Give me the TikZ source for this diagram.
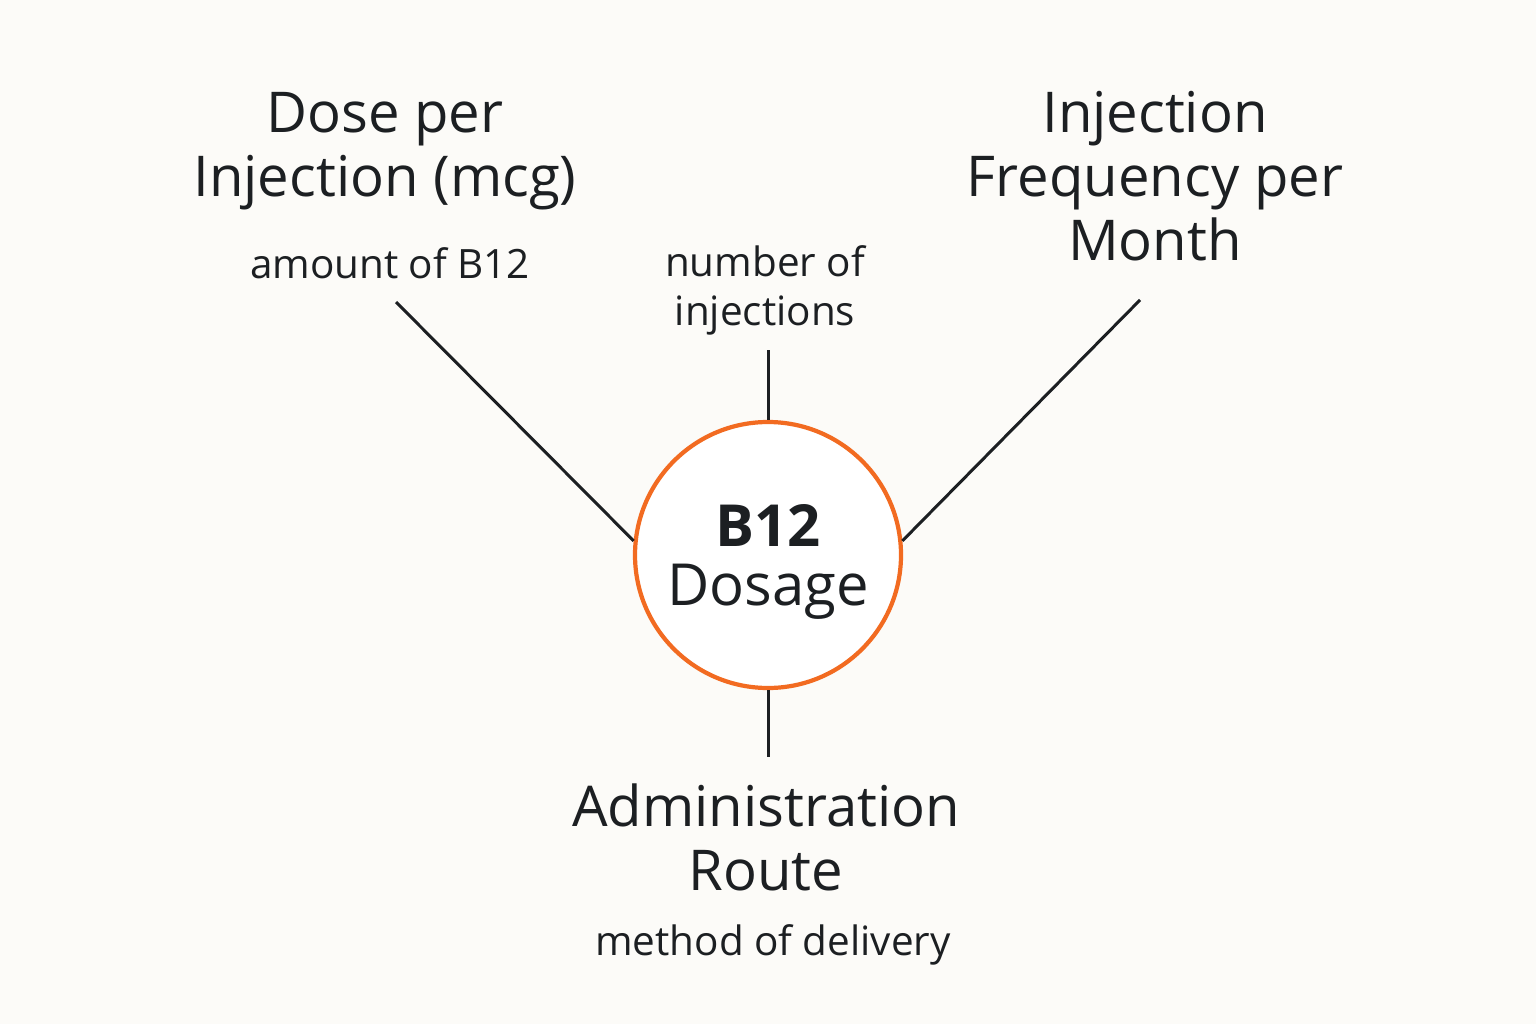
\documentclass[tikz,border=0pt]{standalone}
\usepackage{fontspec}
\setmainfont{Open Sans}
\usepackage{tikz}
\usetikzlibrary{positioning}
\definecolor{bgcol}{HTML}{FCFBF8}
\definecolor{inkcol}{HTML}{1C1F22}
\definecolor{ringcol}{HTML}{F26B21}
\tikzset{
	bigtext/.style={align=center, text=inkcol, font=\fontsize{16}{18.2}\selectfont},
	smalltext/.style={align=center, text=inkcol, font=\fontsize{11.5}{13.9}\selectfont},
	spoke/.style={draw=inkcol, line width=0.85pt}
}
\begin{document}
\begin{tikzpicture}
	%background
	\fill[bgcol] (0,0) rectangle (15.36,10.24);
	\useasboundingbox (0,0) rectangle (15.36,10.24);
	
	%centre circle
	\node[circle, draw=ringcol, line width=1.2pt, fill=white, inner sep=0pt, minimum size=2.66cm] (hub) at (7.68,4.69) {};
	\node[align=center, text=inkcol, font=\fontsize{16.5}{17}\selectfont] (hublabel) at ([yshift=-2pt]hub.center) {\textbf{B12}\\Dosage};
	
	%titles
	\node[bigtext] (dose) at (3.85,8.73) {Dose per\\Injection (mcg)};
	\node[bigtext] (freq) at (11.55,8.48) {Injection\\Frequency per\\Month};
	\node[bigtext] (route) at (7.66,1.87) {Administration\\Route};
	
	%small labels
	\node[smalltext] (amount) at (3.90,7.61) {amount of B12};
	\node[smalltext] (number) at (7.65,7.34) {number of\\injections};
	\node[smalltext] (method) at (7.73,0.79) {method of delivery};
	
	%free ends of the spokes
	\coordinate (doseend) at (3.96,7.22);
	\coordinate (freqend) at (11.40,7.24);
	\coordinate (numberend) at (7.68,6.74);
	\coordinate (routeend) at (7.68,2.67);
	
	%spokes
	\draw[spoke] (doseend)--(hub.174);		%left spoke
	\draw[spoke] (freqend)--(hub.6);		%right spoke
	\draw[spoke] (numberend)--(hub.north);	%top spoke
	\draw[spoke] (hub.south)--(routeend);	%bottom spoke
	
\end{tikzpicture}
\end{document}
